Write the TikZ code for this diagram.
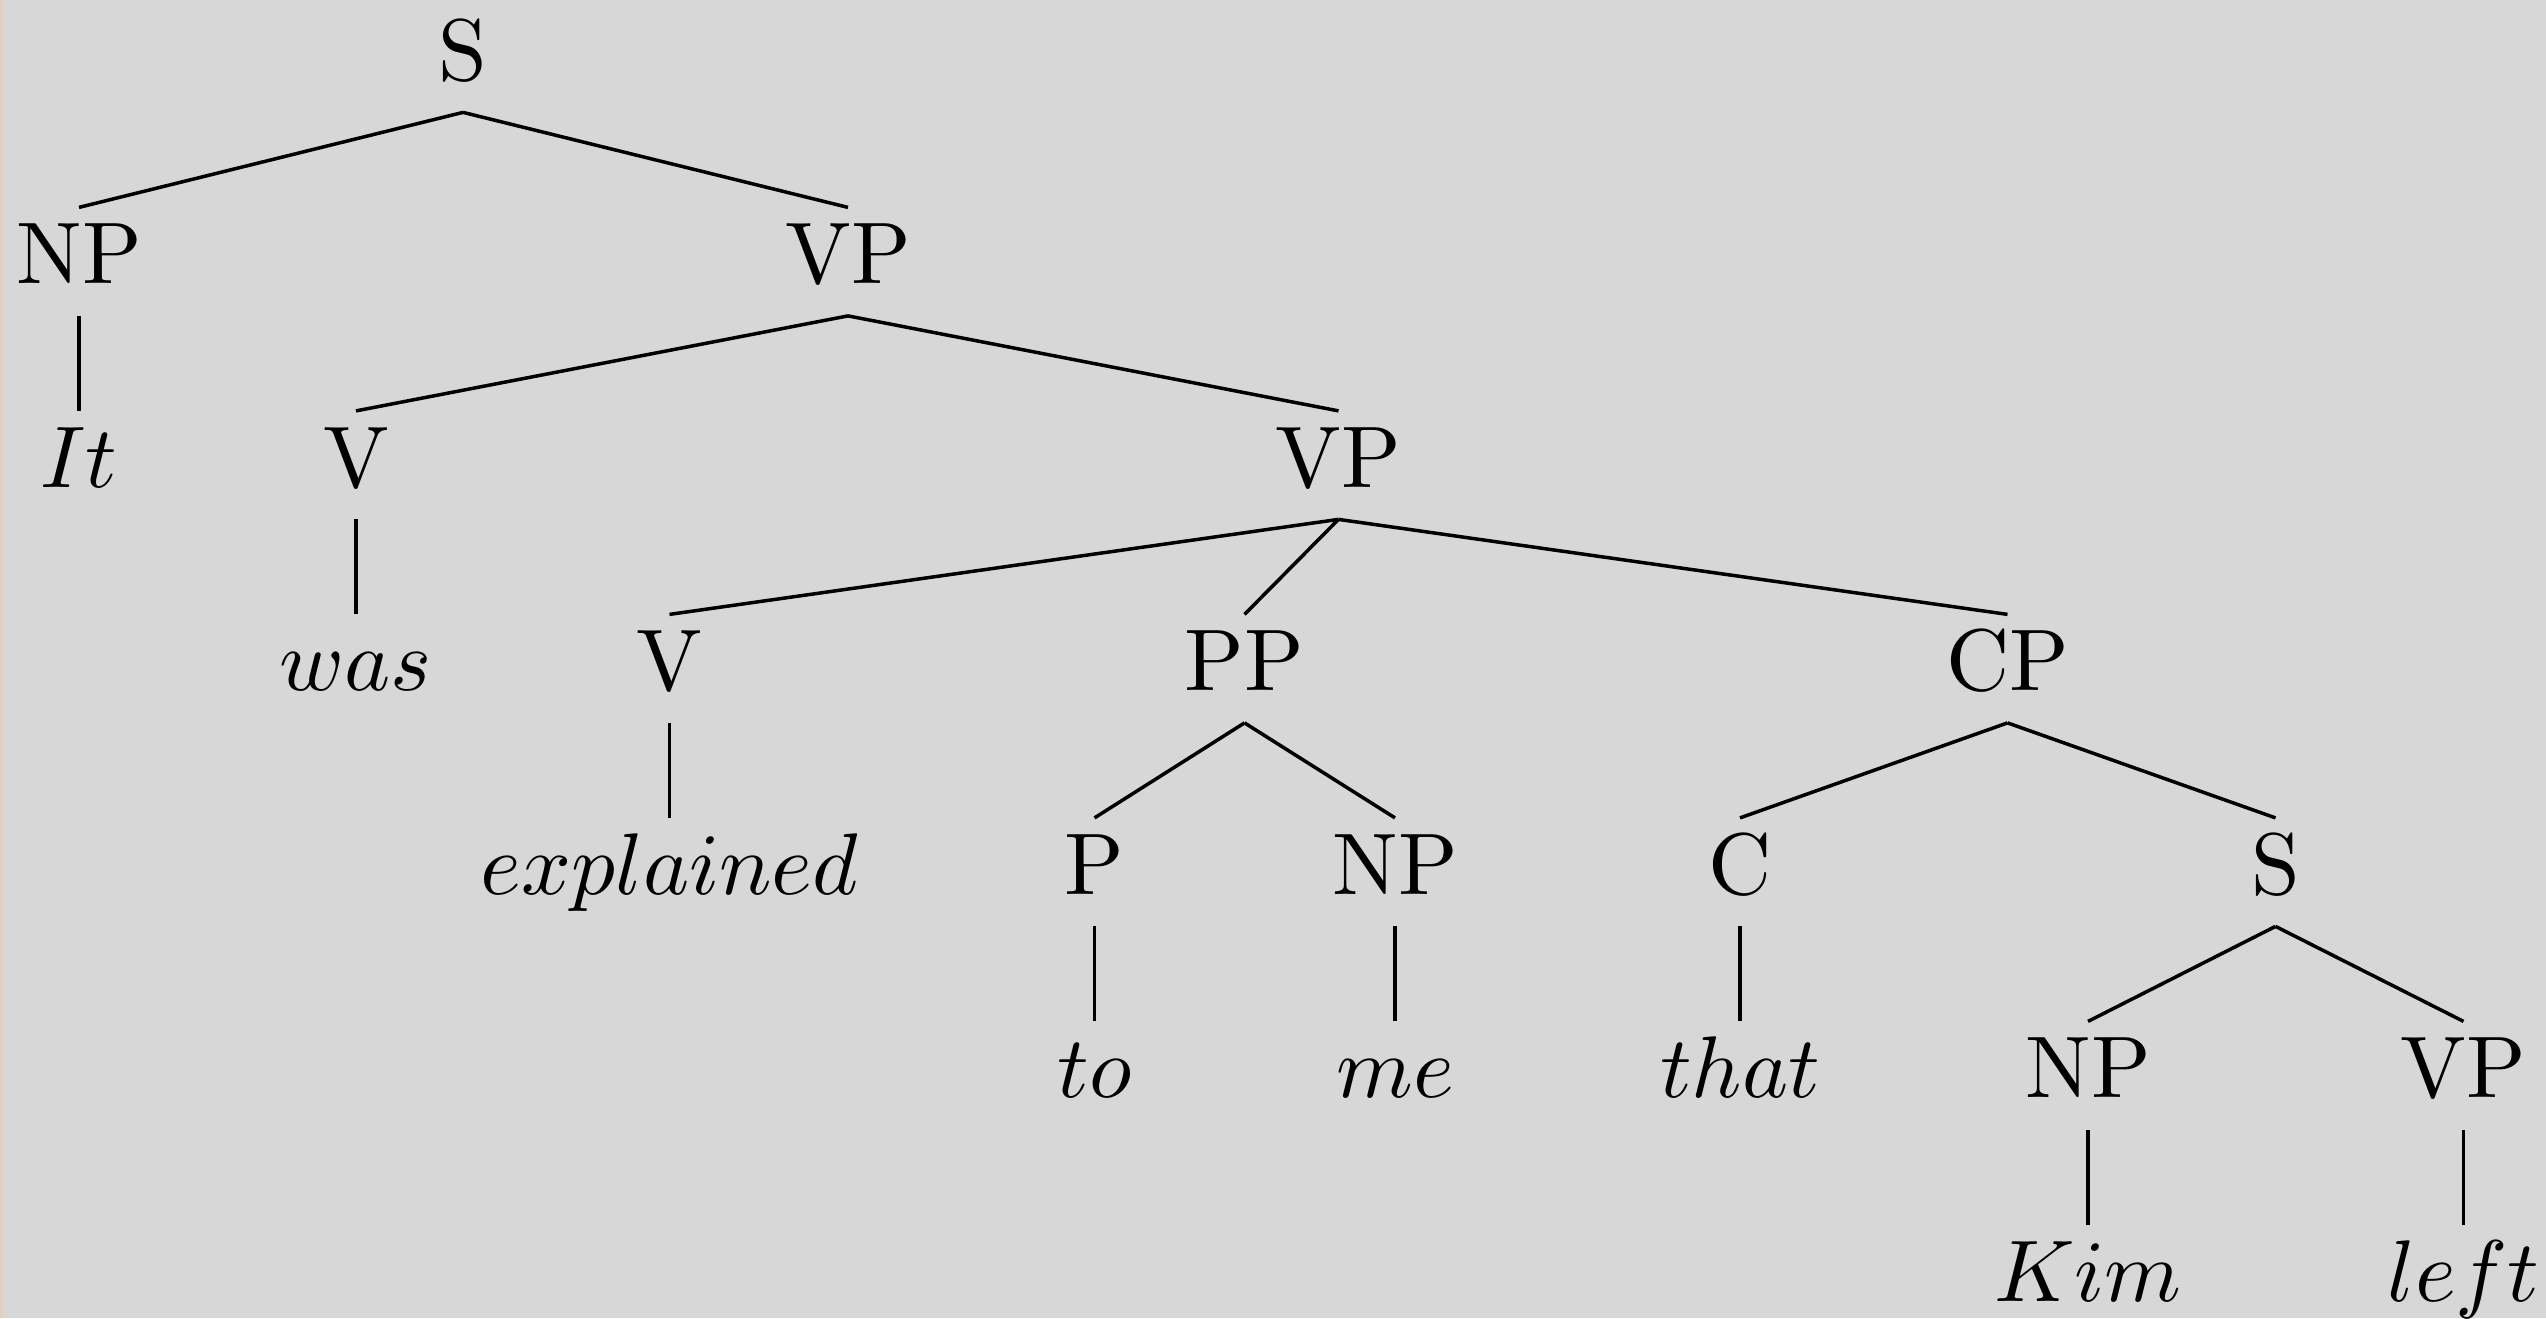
\documentclass[tikz,border=0pt]{standalone}
\begin{document}
\begin{tikzpicture}[x=0.114286pt,y=-0.114286pt,
  tn/.style={inner sep=0pt, text height=8.5pt, text depth=3.5pt, anchor=base},
  br/.style={line width=0.4pt, black}]
\definecolor{bg}{RGB}{215,215,215}
\definecolor{edgestrip}{RGB}{226,208,188}
\path[use as bounding box, fill=bg] (0,0) rectangle (2546,1318);
\fill[edgestrip] (0,0) rectangle (3,1318);
% level 0
\node[tn] (S) at (463,80) {S};
% level 1
\node[tn] (NP) at (79,283.5) {NP};
\node[tn] (VP) at (848,283.5) {VP};
% level 2
\node[tn] (It) at (79,487) {$It$};
\node[tn] (V) at (356,487) {V};
\node[tn] (VPb) at (1338.5,487) {VP};
% level 3
\node[tn] (was) at (356,690.5) {$was$};
\node[tn] (Vb) at (669.5,690.5) {V};
\node[tn] (PP) at (1244.5,690.5) {PP};
\node[tn] (CP) at (2007.5,690.5) {CP};
% level 4
\node[tn] (expl) at (669.5,894) {$explained$};
\node[tn] (P) at (1094.5,894) {P};
\node[tn] (NPb) at (1395,894) {NP};
\node[tn] (C) at (1740,894) {C};
\node[tn] (Sb) at (2275.5,894) {S};
% level 5
\node[tn] (to) at (1094.5,1097.5) {$to$};
\node[tn] (me) at (1395,1097.5) {$me$};
\node[tn] (that) at (1740,1097.5) {$that$};
\node[tn] (NPc) at (2088,1097.5) {NP};
\node[tn] (VPc) at (2463.5,1097.5) {VP};
% level 6
\node[tn] (Kim) at (2088,1301) {$Kim$};
\node[tn] (left) at (2463.5,1301) {$left$};
% branches
\draw[br] (S.south) -- (NP.north);
\draw[br] (S.south) -- (VP.north);
\draw[br] (NP.south) -- (It.north);
\draw[br] (VP.south) -- (V.north);
\draw[br] (VP.south) -- (VPb.north);
\draw[br] (V.south) -- (was.north);
\draw[br] (VPb.south) -- (Vb.north);
\draw[br] (VPb.south) -- (PP.north);
\draw[br] (VPb.south) -- (CP.north);
\draw[br] (Vb.south) -- (expl.north);
\draw[br] (PP.south) -- (P.north);
\draw[br] (PP.south) -- (NPb.north);
\draw[br] (CP.south) -- (C.north);
\draw[br] (CP.south) -- (Sb.north);
\draw[br] (P.south) -- (to.north);
\draw[br] (NPb.south) -- (me.north);
\draw[br] (C.south) -- (that.north);
\draw[br] (Sb.south) -- (NPc.north);
\draw[br] (Sb.south) -- (VPc.north);
\draw[br] (NPc.south) -- (Kim.north);
\draw[br] (VPc.south) -- (left.north);
\end{tikzpicture}
\end{document}
